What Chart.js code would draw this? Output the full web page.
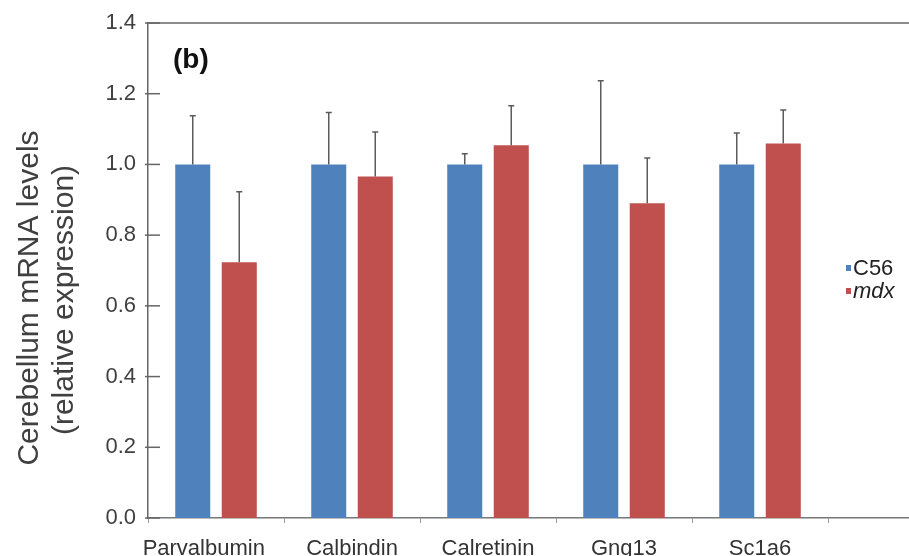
<!DOCTYPE html>
<html>
<head>
<meta charset="utf-8">
<script src="https://cdn.jsdelivr.net/npm/chart.js@4/dist/chart.umd.min.js"></script>
<style>
  html, body { margin: 0; padding: 0; background: #fff; overflow: hidden; }
  #wrap { width: 909px; height: 556px; overflow: hidden; }
</style>
</head>
<body>
<div id="wrap"><canvas id="myBarChart" width="980" height="556"></canvas></div>
<script>
  // data
  var categories = ['Parvalbumin', 'Calbindin', 'Calretinin', 'Gng13', 'Sc1a6', ''];
  var c56 = [1.0, 1.0, 1.0, 1.0, 1.0];
  var c56Err = [0.138, 0.147, 0.03, 0.237, 0.089];
  var mdx = [0.723, 0.966, 1.054, 0.89, 1.059];
  var mdxErr = [0.2, 0.126, 0.112, 0.128, 0.095];
  var yTicks = [0, 0.2, 0.4, 0.6, 0.8, 1.0, 1.2, 1.4];

  var FONT = "'Liberation Sans', Arial, sans-serif";

  var extras = {
    id: 'extras',
    afterDatasetsDraw: function (chart) {
      var ctx = chart.ctx;
      var y = chart.scales.y;
      ctx.save();
      ctx.strokeStyle = '#5a5a5a';
      ctx.lineWidth = 1.5;
      chart.data.datasets.forEach(function (ds, i) {
        var meta = chart.getDatasetMeta(i);
        meta.data.forEach(function (bar, j) {
          if (ds.errors[j] == null) return;
          var top = y.getPixelForValue(ds.data[j] + ds.errors[j]);
          ctx.beginPath();
          ctx.moveTo(bar.x, bar.y);
          ctx.lineTo(bar.x, top);
          ctx.moveTo(bar.x - 3, top);
          ctx.lineTo(bar.x + 3, top);
          ctx.stroke();
        });
      });
      ctx.restore();
    },
    afterDraw: function (chart) {
      var ctx = chart.ctx;
      var a = chart.chartArea;
      var y = chart.scales.y;
      ctx.save();
      // top frame line
      ctx.strokeStyle = '#666';
      ctx.lineWidth = 1.5;
      ctx.beginPath();
      ctx.moveTo(a.left, a.top);
      ctx.lineTo(chart.width, a.top);
      ctx.stroke();
      // inward y ticks
      yTicks.forEach(function (v) {
        var py = y.getPixelForValue(v);
        ctx.beginPath();
        ctx.moveTo(a.left - 3, py);
        ctx.lineTo(a.left + 12, py);
        ctx.stroke();
      });
      // y axis title
      ctx.fillStyle = '#404040';
      ctx.font = '30px ' + FONT;
      ctx.textAlign = 'center';
      ctx.textBaseline = 'middle';
      ctx.translate(30, 298);
      ctx.rotate(-Math.PI / 2);
      ctx.fillText('Cerebellum mRNA levels', 0, 0);
      ctx.fillText('(relative expression)', -2, 35);
      ctx.setTransform(1, 0, 0, 1, 0, 0);
      // panel label
      ctx.fillStyle = '#111';
      ctx.font = 'bold 28px ' + FONT;
      ctx.textAlign = 'left';
      ctx.fillText('(b)', 173, 60);
      // legend
      var rows = [268, 291];
      chart.data.datasets.forEach(function (ds, i) {
        ctx.fillStyle = ds.backgroundColor;
        ctx.fillRect(846, rows[i] - 3, 5, 6);
        ctx.fillStyle = '#222';
        ctx.font = (i === 1 ? 'italic ' : '') + '22px ' + FONT;
        ctx.fillText(ds.label, 853, rows[i] + 1);
      });
      ctx.restore();
    }
  };

  var ctx = document.getElementById('myBarChart').getContext('2d');
  var myBarChart = new Chart(ctx, {
    type: 'bar',
    data: {
      labels: categories,
      datasets: [
        { label: 'C56', data: c56, errors: c56Err, backgroundColor: '#4f81bd' },
        { label: 'mdx', data: mdx, errors: mdxErr, backgroundColor: '#c0504d' }
      ]
    },
    options: {
      responsive: false,
      animation: false,
      categoryPercentage: 0.684,
      barPercentage: 0.753,
      layout: { padding: { top: 23, right: 16, left: 0, bottom: 0 } },
      plugins: {
        legend: { display: false },
        tooltip: { enabled: false }
      },
      scales: {
        x: {
          grid: { display: true, offset: true, drawOnChartArea: false, tickLength: 5, tickColor: '#999', color: '#999' },
          border: { color: '#777', width: 1.5 },
          ticks: {
            color: '#333',
            font: { family: FONT, size: 22 },
            padding: 13,
            maxRotation: 0,
            autoSkip: false,
            // first label sits a little left of its group in the original
            callback: function (v, i) { return i === 0 ? categories[i] + '    ' : categories[i]; }
          },
          afterFit: function (s) { s.height = 38; }
        },
        y: {
          min: 0,
          max: 1.4,
          afterBuildTicks: function (s) { s.ticks = yTicks.map(function (v) { return { value: v }; }); },
          grid: { display: false },
          border: { color: '#666', width: 1.5 },
          ticks: {
            color: '#404040',
            font: { family: FONT, size: 22 },
            padding: 4,
            callback: function (v) { return v.toFixed(1); }
          },
          afterFit: function (s) { s.width = 148; }
        }
      }
    },
    plugins: [extras]
  });
</script>
</body>
</html>
